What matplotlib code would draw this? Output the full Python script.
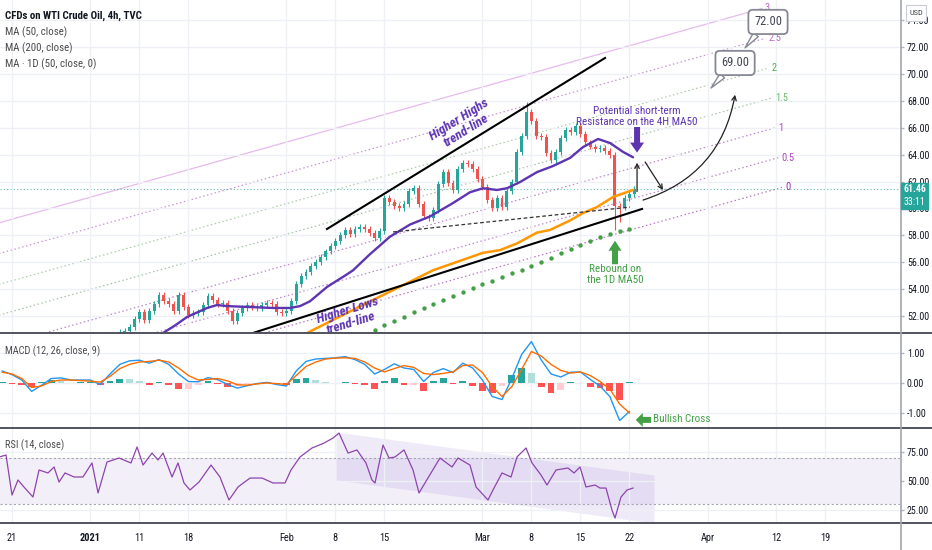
import matplotlib
matplotlib.use('Agg')
import matplotlib.pyplot as plt
import numpy as np
from matplotlib import font_manager as fm
from matplotlib.lines import Line2D
from matplotlib.patches import Rectangle, FancyArrowPatch
from matplotlib.ticker import FuncFormatter


def pick_font():
    entries = fm.fontManager.ttflist
    for nm in ['Liberation Sans Narrow', 'Roboto Condensed', 'Open Sans Condensed', 'Noto Sans Condensed']:
        if any(e.name == nm for e in entries):
            return nm, 'normal', 1.0
    for nm in ['Roboto', 'Noto Sans', 'Open Sans', 'DejaVu Sans']:
        if any(e.name == nm and str(e.stretch) in ('condensed', 'semi-condensed', 'extra-condensed')
               for e in entries):
            return nm, 'condensed', (0.9 if nm == 'DejaVu Sans' else 0.97)
    return 'Liberation Sans', 'normal', 0.86


FAM, STRETCH, SC = pick_font()
plt.rcParams['font.family'] = [FAM, 'Liberation Sans', 'DejaVu Sans']
plt.rcParams['font.stretch'] = STRETCH


def fs(v):
    return v * SC


# ---------------- data ----------------
# x axis = trading-day index (0 = Mon 21 Dec 2020)
tick_days = [0, 8, 13, 18, 28, 33, 38, 48, 53, 58, 63, 71, 78, 83]
tick_labels = ['21', '2021', '11', '18', 'Feb', '8', '15', 'Mar', '8', '15', '22', 'Apr', '12', '19']

# candles (half-day steps)
candle_start = 10.5
candle_step = 0.5
first_open = 50.3
closes = [50.5, 50.8, 50.9, 51.2, 51.8, 52.3, 51.7, 52.4, 52.9, 53.6,
          53.1, 52.9, 52.4, 53.6, 52.7, 52.1, 52.2, 52.3, 52.8, 53.5,
          53.2, 52.9, 53.0, 52.4, 51.6, 52.2, 52.6, 52.8, 52.7, 52.6,
          52.8, 53.0, 52.9, 52.3, 52.2, 52.4, 53.1, 54.4, 55.0, 55.3,
          55.7, 56.0, 56.4, 56.8, 57.2, 57.6, 58.0, 58.4, 58.1, 58.5,
          58.6, 58.5, 58.2, 57.8, 58.3, 60.8, 60.5, 60.2, 60.0, 60.3,
          61.3, 61.5, 60.3, 59.4, 59.3, 59.9, 61.8, 62.7, 61.9, 61.4,
          62.9, 63.4, 63.3, 62.9, 62.2, 61.6, 60.6, 60.0, 60.8, 60.1,
          61.3, 62.0, 64.2, 65.4, 67.2, 66.5, 65.4, 65.3, 64.1, 63.6,
          64.2, 65.2, 65.8, 65.7, 66.1, 65.5, 64.9, 64.6, 64.4, 64.5,
          64.3, 64.0, 60.2, 60.1, 60.8, 61.1, 61.46]
wick = 0.22
high_override = {84: 67.9, 55: 61.0}
low_override = {102: 58.4, 103: 59.0}
last_price = 61.46

ma50_t = [14.59, 15.41, 16.63, 17.86, 19.90, 20.92, 21.94, 24.29, 26.63, 28.37, 29.39,
          30.41, 32.14, 34.18, 34.80, 36.53, 38.57, 40.61, 42.65, 45.0, 46.73, 48.06,
          49.49, 50.51, 51.84, 53.57, 55.20, 56.94, 58.27, 59.80, 61.02, 62.35, 63.37]
ma50_v = [50.2, 50.74, 51.3, 51.93, 52.6, 52.82, 52.74, 52.67, 52.6, 52.6, 52.74,
          53.1, 54.16, 55.1, 55.4, 56.6, 57.9, 58.8, 59.4, 60.4, 61.2, 61.5,
          61.37, 61.5, 61.96, 62.7, 63.15, 63.75, 64.56, 65.16, 64.86, 64.2, 63.8]

ma200_t = [29.39, 30.1, 36.22, 42.96, 48.06, 49.8, 51.53, 53.57, 54.9, 56.94, 58.27, 59.69, 61.33, 63.37]
ma200_v = [50.4, 50.74, 52.97, 55.4, 56.7, 56.9, 57.4, 58.2, 58.4, 59.1, 59.66, 60.1, 60.85, 61.37]

ma1d_t = list(range(37, 64))
ma1d_v = [50.95, 51.3, 51.6, 51.95, 52.3, 52.6, 52.9, 53.2, 53.5, 53.8,
          54.1, 54.4, 54.6, 54.9, 55.2, 55.45, 55.75, 56.0, 56.3, 56.7,
          57.0, 57.3, 57.55, 57.85, 58.1, 58.3, 58.45]

# trend lines
hh_t, hh_p = [32.14, 60.51], [58.47, 71.18]
hl_t, hl_p = [22.0, 64.29], [50.14, 59.96]
dash_t, dash_p = [38.88, 63.06], [58.25, 60.10]

# fib channel
fib_levels = [0, 0.5, 1, 1.5, 2, 2.5, 3]
fib_end_t = [78.57, 78.23, 77.89, 77.55, 77.21, 76.87, 76.52]
fib_t0, fib_p0 = -1.2245, 45.23
fib_slope = 0.2047
fib_step = 4.572
fib_line_colors = ['#b06ac0', '#b57cc6', '#b57cc6', '#9fbf9f', '#a5c8a0', '#c38bd0', '#e2b3ea']
fib_label_colors = ['#9c27b0', '#ab47bc', '#ab47bc', '#66bb6a', '#4caf50', '#ba68c8', '#ba68c8']

# MACD (daily samples)
macd_t = list(range(-1, 64))
macd_v = [0.40, 0.28, 0.10, -0.28, -0.08, 0.15, 0.17, 0.10, 0.10, 0.10,
          -0.05, 0.30, 0.62, 0.74, 0.76, 0.66, 0.78, 0.62, 0.30, 0.05,
          0.04, 0.18, 0.11, -0.05, -0.17, -0.09, -0.02, 0.02, -0.05, -0.10,
          0.40, 0.72, 0.80, 0.82, 0.84, 0.88, 0.78, 0.62, 0.30, 0.45,
          0.64, 0.50, 0.45, 0.05, 0.35, 0.48, 0.35, 0.66, 0.50, 0.10,
          -0.45, -0.55, 0.15, 0.95, 1.38, 0.77, 0.30, 0.20, 0.36, 0.37,
          0.12, -0.10, -0.45, -1.25, -0.95]
signal_v = [0.36, 0.30, 0.15, -0.15, -0.10, 0.05, 0.10, 0.10, 0.08, 0.06,
            0.03, 0.22, 0.48, 0.62, 0.70, 0.72, 0.76, 0.70, 0.50, 0.25,
            0.10, 0.12, 0.15, 0.07, -0.06, -0.07, -0.03, 0.00, -0.02, -0.05,
            0.25, 0.55, 0.70, 0.80, 0.83, 0.84, 0.82, 0.70, 0.50, 0.37,
            0.48, 0.58, 0.52, 0.32, 0.28, 0.32, 0.37, 0.58, 0.60, 0.35,
            -0.12, -0.45, -0.12, 0.45, 1.05, 0.90, 0.62, 0.42, 0.33, 0.37,
            0.25, 0.05, -0.20, -0.70, -1.00]

# RSI
rsi_t = [-1.22, -0.61, 0, 0.61, 1.22, 2.14, 2.76, 3.67, 4.29, 4.80,
         5.41, 6.33, 7.24, 8.16, 8.78, 9.69, 10.92, 12.14, 12.76, 13.37,
         14.29, 14.90, 15.41, 16.33, 16.94, 17.55, 18.16, 19.08, 20.31, 21.22,
         22.14, 23.06, 24.29, 25.51, 26.63, 27.86, 28.47, 29.39, 30.61, 31.84,
         32.76, 33.37, 34.29, 35.20, 36.12, 36.73, 37.04, 37.86, 38.47, 39.08,
         40.0, 40.92, 41.53, 42.14, 43.67, 44.90, 45.51, 46.73, 47.35, 48.57,
         49.08, 50.0, 50.92, 51.53, 52.45, 53.06, 53.98, 54.59, 55.51, 56.73,
         57.35, 57.96, 58.57, 59.49, 60.0, 60.61, 61.22, 61.53, 62.14, 62.76,
         63.37]
rsi_v = [71.1, 72.6, 37.8, 50.9, 44.8, 36.1, 59.6, 57.0, 62.2, 49.1,
         57.0, 53.5, 53.5, 65.7, 39.6, 66.5, 70.0, 65.7, 79.6, 63.9,
         74.3, 68.3, 74.3, 53.5, 65.7, 48.3, 42.2, 49.1, 63.9, 53.5,
         33.5, 44.8, 52.6, 52.6, 48.3, 48.3, 59.6, 70.9, 78.7, 83.0,
         87.4, 91.7, 74.3, 77.0, 65.7, 50.9, 48.3, 81.3, 70.0, 70.9,
         77.0, 59.6, 39.6, 48.3, 70.0, 62.2, 70.0, 63.9, 44.8, 33.5,
         42.2, 57.0, 53.5, 70.9, 78.7, 65.7, 55.2, 46.5, 59.6, 61.3,
         57.0, 62.2, 44.8, 46.5, 43.9, 43.9, 24.8, 17.8, 36.1, 42.2,
         43.9]
rsi_upper, rsi_lower = 70, 30
rsi_chan_t = [33.06, 65.51]
rsi_chan_top = [92.6, 55.2]
rsi_chan_bot = [50.9, 13.5]

# ---------------- style ----------------
UP, DOWN = '#26a69a', '#ef5350'
GRID = '#eef0f5'
TXT = '#131722'
W, H = 932, 550


def fx(px):
    return px / W


def fy(py):
    return 1 - py / H


fig = plt.figure(figsize=(W / 100, H / 100), dpi=100)
fig.patch.set_facecolor('white')
ax_main = fig.add_axes([0, fy(333), fx(900), 333 / H])
ax_macd = fig.add_axes([0, fy(428), fx(900), 95 / H])
ax_rsi = fig.add_axes([0, fy(523), fx(900), 95 / H])

XMIN, XMAX = -1.2245, 90.61
for ax in (ax_main, ax_macd, ax_rsi):
    ax.set_xlim(XMIN, XMAX)
    ax.set_xticks(tick_days)
    ax.grid(axis='x', color=GRID, lw=1, zorder=0)
    ax.grid(axis='y', color=GRID, lw=1, zorder=0)
    for s in ax.spines.values():
        s.set_visible(False)
    ax.yaxis.tick_right()
    ax.tick_params(axis='y', direction='out', length=3, width=1, color='#b2b5be',
                   labelsize=fs(7.2), labelcolor=TXT, pad=2)
    ax.tick_params(axis='x', length=0, labelbottom=False)
    ax.yaxis.set_major_formatter(FuncFormatter(lambda v, p: f'{v:.2f}'))
    ax.set_facecolor('none')

ax_main.set_ylim(50.74, 75.49)
ax_main.set_yticks(np.arange(52, 75, 2))
ax_macd.set_ylim(-1.5, 1.667)
ax_macd.set_yticks([-1, 0, 1])
ax_rsi.set_ylim(13.5, 96.1)
ax_rsi.set_yticks([25, 50, 75])

ax_rsi.tick_params(axis='x', labelbottom=True, labelsize=fs(7.5), labelcolor=TXT, pad=7)
ax_rsi.set_xticklabels(tick_labels)
for lab in ax_rsi.get_xticklabels():
    if lab.get_text() == '2021':
        lab.set_fontweight('bold')

# ---------------- main panel ----------------
for L, te, lc, tc in zip(fib_levels, fib_end_t, fib_line_colors, fib_label_colors):
    ts = np.array([XMIN - 0.5, te])
    ps = fib_p0 + fib_slope * (ts - fib_t0) + fib_step * L
    ls = '-' if L == 3 else (0, (1.2, 2))
    ax_main.plot(ts, ps, color=lc, lw=0.9, ls=ls, zorder=1, alpha=0.9)
    ax_main.text(te + 0.3, ps[-1], f'{L:g}', color=tc, fontsize=fs(7.5), ha='left', va='center', zorder=6)

ax_main.axhline(last_price, color=UP, lw=0.8, ls=(0, (1, 2)), alpha=0.7, zorder=1)

closes_a = np.array(closes)
n = len(closes_a)
ct = candle_start + candle_step * np.arange(n)
opens = np.concatenate([[first_open], closes_a[:-1]])
highs = np.maximum(opens, closes_a) + wick
lows = np.minimum(opens, closes_a) - wick
for i, v in high_override.items():
    highs[i] = v
for i, v in low_override.items():
    lows[i] = v
cols = np.where(closes_a >= opens, UP, DOWN)
ax_main.vlines(ct, lows, highs, colors=cols, lw=0.8, zorder=3)
body = np.maximum(np.abs(closes_a - opens), 0.07)
ax_main.bar(ct, body, bottom=np.minimum(opens, closes_a), width=0.3, color=cols, lw=0, zorder=3)

ax_main.plot(ma200_t, ma200_v, color='#ff9800', lw=1.8, zorder=4, solid_capstyle='round')
ax_main.plot(ma50_t, ma50_v, color='#5e35b1', lw=1.7, zorder=4, solid_capstyle='round')
ax_main.scatter(ma1d_t, ma1d_v, s=10, color='#43a047', zorder=4, linewidths=0)

ax_main.plot(hh_t, hh_p, color='black', lw=1.5, zorder=5)
ax_main.plot(hl_t, hl_p, color='black', lw=1.5, zorder=5)
ax_main.plot(dash_t, dash_p, color='#333333', lw=0.9, ls=(0, (3, 2)), zorder=5)

ax_main.text(46.0, 66.2, 'Higher Highs\ntrend-line', rotation=32, rotation_mode='anchor',
             ha='center', va='center', fontsize=fs(9.5), style='italic', fontweight='bold',
             color='#5e35b1', linespacing=1.0, zorder=7)
ax_main.text(34.4, 51.95, 'Higher Lows\ntrend-line', rotation=17, rotation_mode='anchor',
             ha='center', va='center', fontsize=fs(9.5), style='italic', fontweight='bold',
             color='#5e35b1', linespacing=1.0, zorder=7)
ax_main.text(63.78, 66.85, 'Potential short-term\nResistance on the 4H MA50', ha='center', va='center',
             fontsize=fs(8), color='#5e35b1', linespacing=1.1, zorder=7)
ax_main.text(61.53, 55.1, 'Rebound on\nthe 1D MA50', ha='center', va='center',
             fontsize=fs(8), color='#43a047', linespacing=1.1, zorder=7)


def block_arrow(ax, tail, tip, color, hw, hl, tw):
    a = FancyArrowPatch(tail, tip, transform=ax.transData,
                        arrowstyle=f'simple,head_length={hl},head_width={hw},tail_width={tw}',
                        mutation_scale=0.72, color=color, lw=0, zorder=8, shrinkA=0, shrinkB=0)
    ax.add_patch(a)


block_arrow(ax_main, (63.78, 66.05), (63.78, 64.15), '#5e35b1', 14, 10, 6)
block_arrow(ax_main, (61.53, 55.85), (61.53, 57.6), '#43a047', 13, 10, 6)

thin = dict(arrowstyle='->', color='#222222', lw=0.9, shrinkA=0, shrinkB=0, mutation_scale=8)
ax_main.annotate('', xy=(63.78, 63.4), xytext=(63.78, 61.25), arrowprops=thin, zorder=8)
ax_main.annotate('', xy=(66.43, 61.37), xytext=(64.6, 63.45), arrowprops=thin, zorder=8)
curve = dict(thin, connectionstyle='arc3,rad=0.3')
ax_main.annotate('', xy=(73.78, 68.45), xytext=(64.39, 60.62), arrowprops=curve, zorder=8)

box = dict(boxstyle='round,pad=0.45,rounding_size=0.35', fc='white', ec='#868993', lw=1.3)
wedge = dict(arrowstyle='wedge,tail_width=0.5', fc='white', ec='#868993', lw=1.0,
             shrinkA=0, shrinkB=0, relpos=(0.25, 0.0))
ax_main.annotate('69.00', xy=(71.33, 68.95), xytext=(73.78, 70.81), ha='center', va='center',
                 fontsize=fs(9), color='#434651', bbox=box, arrowprops=wedge, zorder=9)
ax_main.annotate('72.00', xy=(74.8, 71.93), xytext=(77.14, 73.86), ha='center', va='center',
                 fontsize=fs(9), color='#434651', bbox=box, arrowprops=wedge, zorder=9)

# ---------------- MACD ----------------
hist = np.array(macd_v) - np.array(signal_v)
hcols = []
for i, h in enumerate(hist):
    prev = hist[i - 1] if i > 0 else h
    if h >= 0:
        hcols.append('#26a69a' if h >= prev else '#b2dfdb')
    else:
        hcols.append('#ffcdd2' if h >= prev else '#ff5252')
ax_macd.bar(macd_t, hist, width=0.7, color=hcols, lw=0, zorder=2)
ax_macd.plot(macd_t, macd_v, color='#2196f3', lw=1.0, zorder=3)
ax_macd.plot(macd_t, signal_v, color='#ff6d00', lw=1.0, zorder=3)
block_arrow(ax_macd, (65.2, -1.23), (63.65, -1.23), '#43a047', 14, 7, 6)
ax_macd.text(65.45, -1.2, 'Bullish Cross', fontsize=fs(8), color='#43a047', ha='left', va='center', zorder=6)

# ---------------- RSI ----------------
ax_rsi.axhspan(rsi_lower, rsi_upper, color='#7e57c2', alpha=0.09, lw=0, zorder=1)
ax_rsi.axhline(rsi_upper, color='#a3a6af', lw=0.8, ls=(0, (2, 2)), zorder=2)
ax_rsi.axhline(rsi_lower, color='#a3a6af', lw=0.8, ls=(0, (2, 2)), zorder=2)
ax_rsi.fill_between(rsi_chan_t, rsi_chan_bot, rsi_chan_top, color='#7e57c2', alpha=0.12, lw=0, zorder=1)
ax_rsi.plot(rsi_t, rsi_v, color='#8e44ad', lw=0.9, zorder=3)

# ---------------- chrome ----------------
fig.text(fx(5), fy(16), 'CFDs on WTI Crude Oil, 4h, TVC', fontsize=fs(7.8), fontweight='bold', color=TXT, va='center')
for yy, s in [(32, 'MA (50, close)'), (48, 'MA (200, close)'), (64, 'MA \u00b7 1D (50, close, 0)')]:
    fig.text(fx(5), fy(yy), s, fontsize=fs(7.8), color='#4c4c4c', va='center')
fig.text(fx(5), fy(351), 'MACD (12, 26, close, 9)', fontsize=fs(7.5), color='#4c4c4c', va='center')
fig.text(fx(5), fy(445), 'RSI (14, close)', fontsize=fs(7.5), color='#4c4c4c', va='center')

for yy in (333, 428, 523):
    fig.add_artist(Line2D([0, 1], [fy(yy), fy(yy)], color='#50535e', lw=1.4, transform=fig.transFigure))
fig.add_artist(Line2D([fx(901), fx(901)], [0, 1], color='#a3a6af', lw=1.2, transform=fig.transFigure))

fig.add_artist(Rectangle((fx(901), fy(209)), fx(27), 26 / H, transform=fig.transFigure,
                         color='#26a69a', zorder=10))
fig.text(fx(914.5), fy(189.5), '61.46', fontsize=fs(7), fontweight='bold', color='white',
         ha='center', va='center', zorder=11)
fig.text(fx(914.5), fy(202), '33:11', fontsize=fs(7), color='white', ha='center', va='center', zorder=11)

fig.add_artist(Rectangle((fx(906), fy(21)), fx(20), 16 / H, transform=fig.transFigure,
                         fc='white', ec='#c9ccd4', lw=0.8, zorder=10))
fig.text(fx(916), fy(13), 'USD', fontsize=fs(6), color='#434651', ha='center', va='center', zorder=11)

fig.savefig('out.png', dpi=100)
